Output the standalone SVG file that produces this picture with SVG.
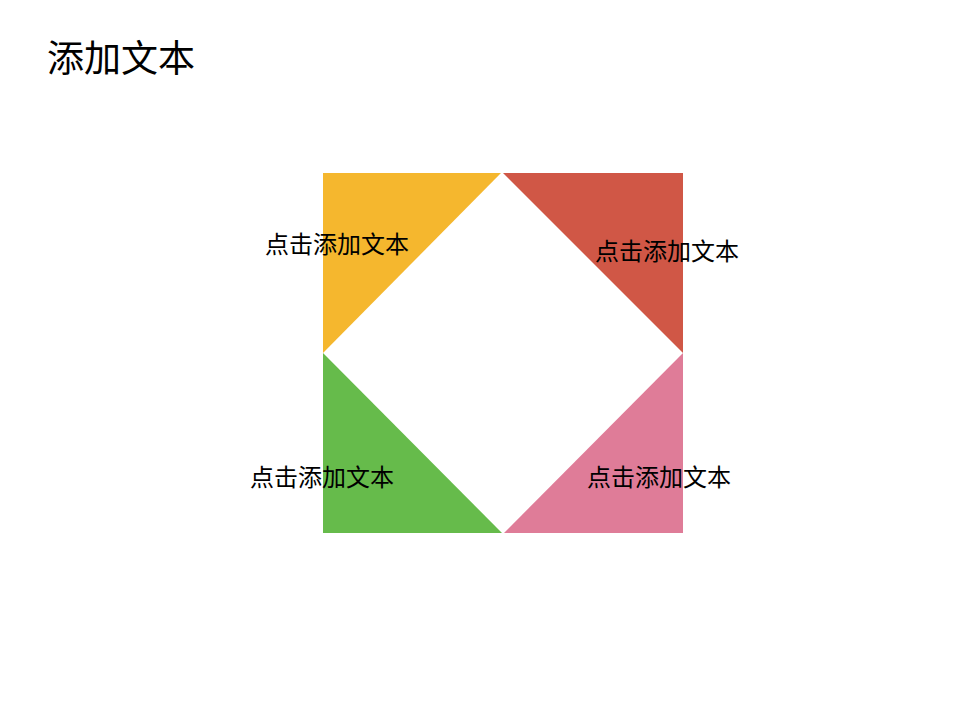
<svg xmlns="http://www.w3.org/2000/svg" width="960" height="720" viewBox="0 0 960 720">
<style>
text{font-family:"Microsoft YaHei","Noto Sans CJK SC","Noto Sans",sans-serif;fill:#000}
.lbl{font-size:24px}
.ttl{font-size:37px}
</style>
<rect width="960" height="720" fill="#fff"/>
<g id="title"><text class="ttl" x="47" y="72">添加文本</text></g>
<g id="node-yellow">
<polygon points="323,173 501,173 323,353" fill="#F5B72E"/>
<text class="lbl" x="265" y="253">点击添加文本</text>
</g>
<g id="node-red">
<polygon points="503,173 683,173 683,353" fill="#D05746"/>
<text class="lbl" x="595" y="260">点击添加文本</text>
</g>
<g id="node-green">
<polygon points="323,353 323,533 502,533" fill="#66BB4B"/>
<text class="lbl" x="250" y="486">点击添加文本</text>
</g>
<g id="node-pink">
<polygon points="683,353 683,533 504,533" fill="#DF7C98"/>
<text class="lbl" x="587" y="486">点击添加文本</text>
</g>
<g id="connectors"></g>
</svg>
